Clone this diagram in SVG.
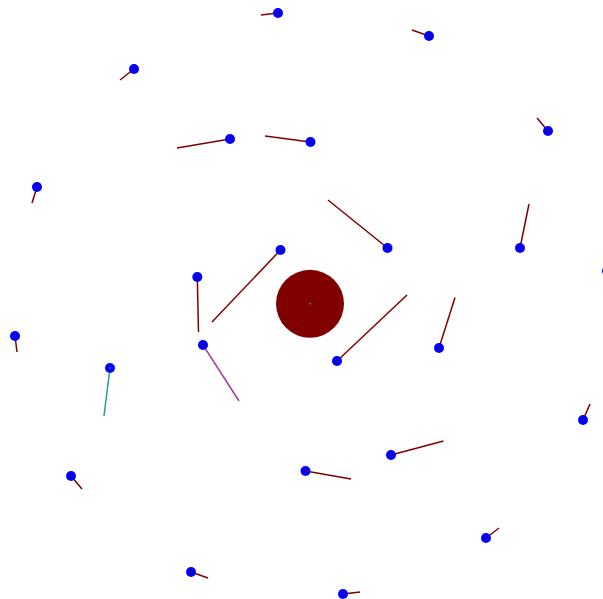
<svg xmlns="http://www.w3.org/2000/svg" width="603" height="599" viewBox="0 0 603 599">
<style>
.l{stroke:#800000;stroke-width:1.5;fill:none}
.d{fill:#0000ff}
.c{fill:#800000}
</style>
<rect width="603" height="599" fill="#fff"/>
<g id="connectors">
<line class="l" x1="278" y1="13" x2="261" y2="15"/>
<line class="l" x1="429" y1="36" x2="412" y2="30"/>
<line class="l" x1="134" y1="69" x2="120" y2="80"/>
<line class="l" x1="548" y1="131" x2="537" y2="118"/>
<line class="l" x1="230" y1="139" x2="177" y2="148"/>
<line class="l" x1="310.5" y1="142" x2="265" y2="136"/>
<line class="l" x1="37" y1="187" x2="32" y2="203"/>
<line class="l" x1="387.5" y1="248" x2="328" y2="200"/>
<line class="l" x1="520" y1="248" x2="529" y2="204"/>
<line class="l" x1="280.5" y1="250" x2="212" y2="322"/>
<line class="l" x1="197.3" y1="277" x2="198.5" y2="332"/>
<line class="l" x1="15" y1="336" x2="17" y2="352"/>
<line class="l" x1="203" y1="345" x2="239" y2="401" stroke="#aa33aa" style="stroke:#a040a0"/>
<line class="l" x1="337" y1="361" x2="407" y2="295"/>
<line class="l" x1="439" y1="348" x2="455" y2="297.5"/>
<line class="l" x1="110" y1="368" x2="104" y2="416" style="stroke:#2a9a9a"/>
<line class="l" x1="583" y1="420" x2="590" y2="404"/>
<line class="l" x1="391" y1="455" x2="443.5" y2="441"/>
<line class="l" x1="305.5" y1="471" x2="351" y2="479"/>
<line class="l" x1="71" y1="476" x2="82" y2="489"/>
<line class="l" x1="486" y1="538" x2="499" y2="528"/>
<line class="l" x1="191" y1="572" x2="208" y2="578"/>
<line class="l" x1="343" y1="594" x2="360" y2="592"/>
</g>
<g id="center"><circle class="c" cx="310" cy="303.8" r="34"/><circle cx="310.3" cy="303.7" r="1" fill="#2a8a6a"/></g>
<g id="n1"><circle class="d" cx="278" cy="13" r="5"/><circle class="c" cx="278" cy="13" r="1"/></g>
<g id="n2"><circle class="d" cx="429" cy="36" r="5"/><circle class="c" cx="429" cy="36" r="1"/></g>
<g id="n3"><circle class="d" cx="134" cy="69" r="5"/><circle class="c" cx="134" cy="69" r="1"/></g>
<g id="n4"><circle class="d" cx="548" cy="131" r="5"/><circle class="c" cx="548" cy="131" r="1"/></g>
<g id="n5"><circle class="d" cx="230" cy="139" r="5"/><circle class="c" cx="230" cy="139" r="1"/></g>
<g id="n6"><circle class="d" cx="310.5" cy="142" r="5"/><circle class="c" cx="310.5" cy="142" r="1"/></g>
<g id="n7"><circle class="d" cx="37" cy="187" r="5"/><circle class="c" cx="37" cy="187" r="1"/></g>
<g id="n8"><circle class="d" cx="387.5" cy="248" r="5"/><circle class="c" cx="387.5" cy="248" r="1"/></g>
<g id="n9"><circle class="d" cx="520" cy="248" r="5"/><circle class="c" cx="520" cy="248" r="1"/></g>
<g id="n10"><circle class="d" cx="280.5" cy="250" r="5"/><circle class="c" cx="280.5" cy="250" r="1"/></g>
<g id="n11"><circle class="d" cx="197.3" cy="277" r="5"/><circle class="c" cx="197.3" cy="277" r="1"/></g>
<g id="n12"><circle class="d" cx="607" cy="271" r="5"/></g>
<g id="n13"><circle class="d" cx="15" cy="336" r="5"/><circle class="c" cx="15" cy="336" r="1"/></g>
<g id="n14"><circle class="d" cx="203" cy="345" r="5"/><circle class="c" cx="203" cy="345" r="1"/></g>
<g id="n15"><circle class="d" cx="337" cy="361" r="5"/><circle class="c" cx="337" cy="361" r="1"/></g>
<g id="n16"><circle class="d" cx="439" cy="348" r="5"/><circle class="c" cx="439" cy="348" r="1"/></g>
<g id="n17"><circle class="d" cx="110" cy="368" r="5"/><circle cx="110" cy="368" r="1" fill="#2a8a6a"/></g>
<g id="n18"><circle class="d" cx="583" cy="420" r="5"/><circle class="c" cx="583" cy="420" r="1"/></g>
<g id="n19"><circle class="d" cx="391" cy="455" r="5"/><circle class="c" cx="391" cy="455" r="1"/></g>
<g id="n20"><circle class="d" cx="305.5" cy="471" r="5"/><circle class="c" cx="305.5" cy="471" r="1"/></g>
<g id="n21"><circle class="d" cx="71" cy="476" r="5"/><circle class="c" cx="71" cy="476" r="1"/></g>
<g id="n22"><circle class="d" cx="486" cy="538" r="5"/><circle class="c" cx="486" cy="538" r="1"/></g>
<g id="n23"><circle class="d" cx="191" cy="572" r="5"/><circle class="c" cx="191" cy="572" r="1"/></g>
<g id="n24"><circle class="d" cx="343" cy="594" r="5"/><circle class="c" cx="343" cy="594" r="1"/></g>
</svg>
